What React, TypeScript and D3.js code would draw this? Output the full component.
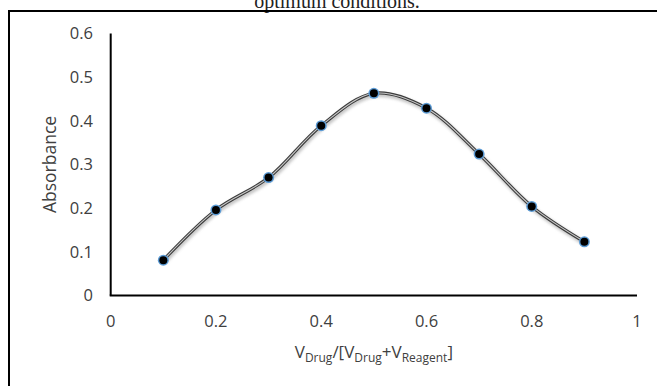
import React from "react";
import * as d3 from "d3";

const xValues = [0.1, 0.2, 0.3, 0.4, 0.5, 0.6, 0.7, 0.8, 0.9];
const absorbance = [0.081, 0.196, 0.27, 0.389, 0.463, 0.429, 0.324, 0.204, 0.123];
const xTicks = [0, 0.2, 0.4, 0.6, 0.8, 1];
const yTicks = [0, 0.1, 0.2, 0.3, 0.4, 0.5, 0.6];

const W = 657;
const H = 386;

export default function App() {
  const x = d3.scaleLinear().domain([0, 1]).range([110.7, 637]);
  const y = d3.scaleLinear().domain([0, 0.6]).range([295.5, 33.5]);
  const pts: [number, number][] = xValues.map((v, i) => [x(v), y(absorbance[i])]);
  const line = d3.line().curve(d3.curveCatmullRom.alpha(0.5));
  const d = line(pts) || "";
  const font = "'Open Sans', sans-serif";
  return (
    <svg width={W} height={H} style={{ position: "absolute", left: 0, top: 0 }} xmlns="http://www.w3.org/2000/svg">
      <defs>
        <filter id="shadow" x="-10%" y="-10%" width="120%" height="120%">
          <feGaussianBlur stdDeviation="1.5" />
        </filter>
        <filter id="glow" x="-50%" y="-50%" width="200%" height="200%">
          <feGaussianBlur stdDeviation="0.6" />
        </filter>
      </defs>
      <rect x={0} y={0} width={W} height={H} fill="#fff" />
      <text x={337} y={8} textAnchor="middle" fontFamily="'Liberation Serif', serif" fontSize={20} fill="#222">
        optimum conditions.
      </text>
      <rect x={9} y={11} width={700} height={420} fill="none" stroke="#000" strokeWidth={2} />
      <line x1={x(0)} x2={x(0)} y1={y(0.6)} y2={y(0)} stroke="#000" strokeWidth={2} />
      <line x1={x(0) - 1} x2={x(1)} y1={y(0)} y2={y(0)} stroke="#000" strokeWidth={2} />
      {yTicks.map((t) => (
        <text key={"y" + t} x={93} y={y(t)} dy="0.35em" textAnchor="end" fontFamily={font} fontSize={16.5} fill="#404040">
          {String(t)}
        </text>
      ))}
      {xTicks.map((t) => (
        <text key={"x" + t} x={x(t)} y={321} dy="0.35em" textAnchor="middle" fontFamily={font} fontSize={16.5} fill="#404040">
          {String(t)}
        </text>
      ))}
      <text transform={`translate(50,${(y(0) + y(0.6)) / 2}) rotate(-90)`} dy="0.35em" textAnchor="middle" fontFamily={font} fontSize={17.5} fill="#404040">
        Absorbance
      </text>
      <text x={(x(0) + x(1)) / 2} y={358} textAnchor="middle" fontFamily={font} fontSize={17} fill="#404040">
        <tspan>V</tspan>
        <tspan fontSize={12} dy={4}>Drug</tspan>
        <tspan dy={-4}>/[V</tspan>
        <tspan fontSize={12} dy={4}>Drug</tspan>
        <tspan dy={-4}>+V</tspan>
        <tspan fontSize={12} dy={4}>Reagent</tspan>
        <tspan dy={-4}>]</tspan>
      </text>
      <path d={d} fill="none" stroke="#999" strokeWidth={4} opacity={0.6} transform="translate(1,2)" filter="url(#shadow)" />
      <path d={d} fill="none" stroke="#3a3a3a" strokeWidth={3.2} />
      <path d={d} fill="none" stroke="#c8c8c8" strokeWidth={1.1} />
      {pts.map(([px, py], i) => (
        <g key={i}>
          <circle cx={px} cy={py} r={5.5} fill="#5b9bd5" filter="url(#glow)" />
          <circle cx={px} cy={py} r={4} fill="#000" />
        </g>
      ))}
    </svg>
  );
}
